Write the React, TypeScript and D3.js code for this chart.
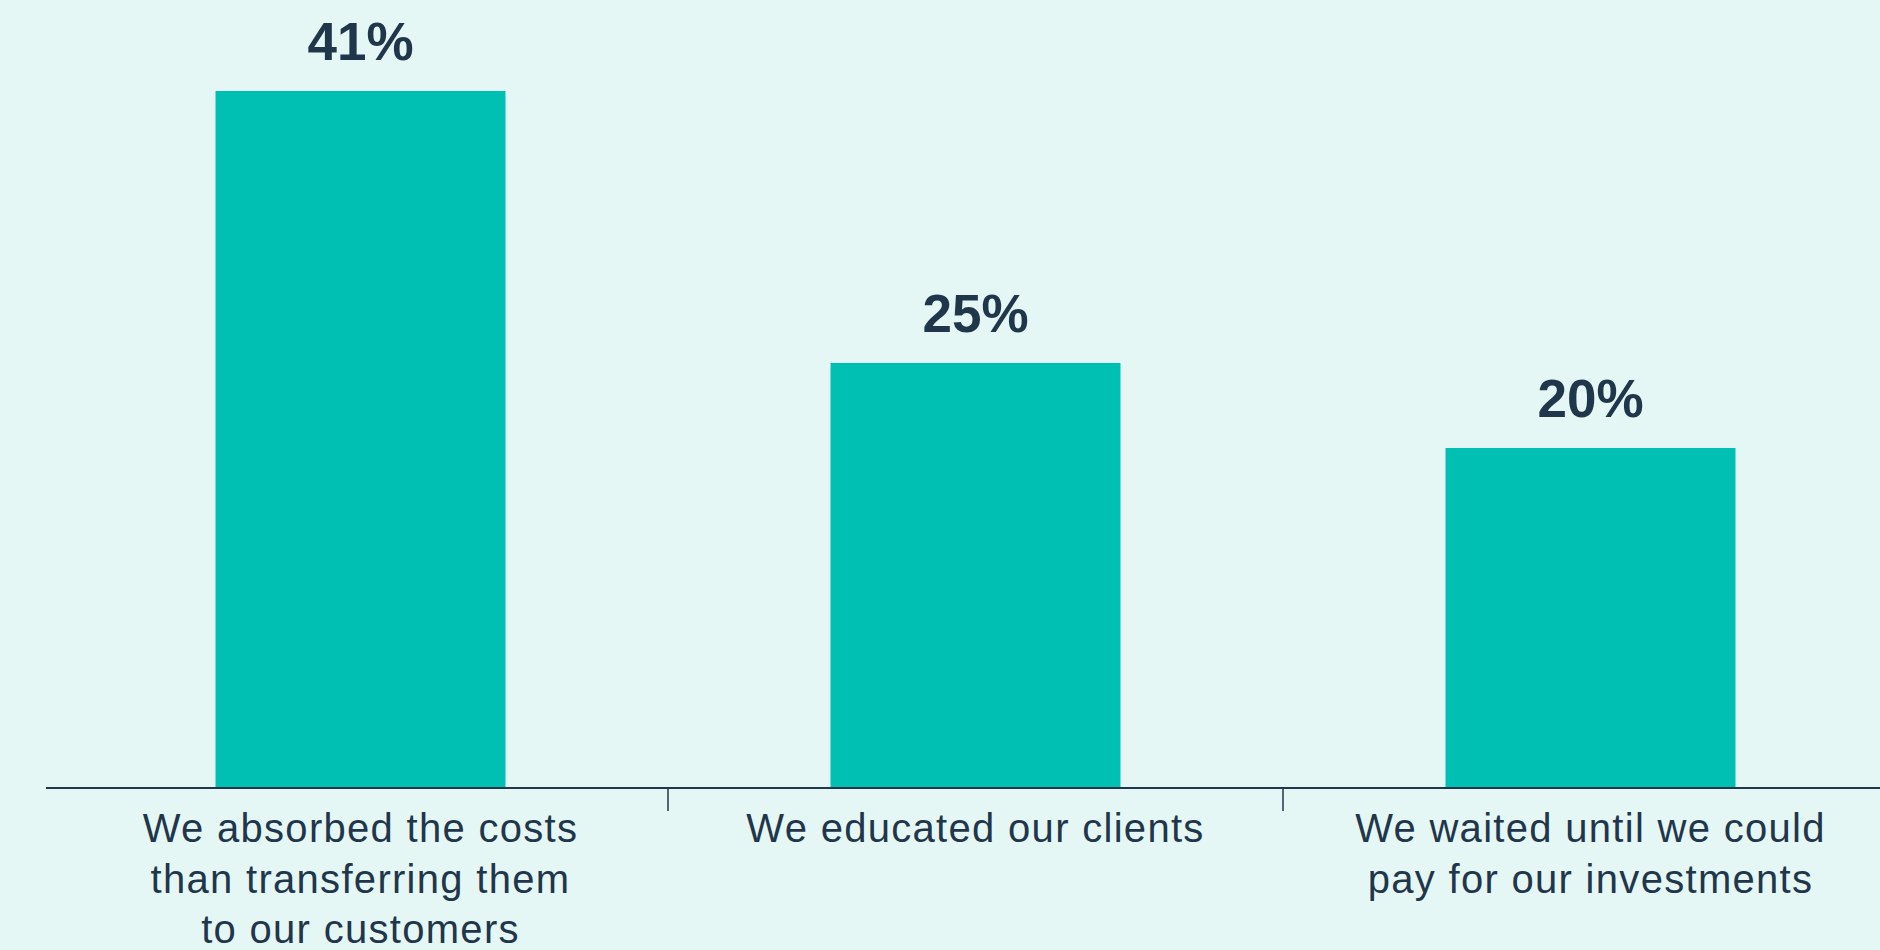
import React from "react";
import * as d3 from "d3";

const categories = ["absorbed", "educated", "waited"];
const categoryLines = [
  ["We absorbed the costs", "than transferring them", "to our customers"],
  ["We educated our clients"],
  ["We waited until we could", "pay for our investments"],
];
const values = [41, 25, 20];
const valueLabels = ["41%", "25%", "20%"];

const W = 1880;
const H = 950;
const BG = "#e5f7f5";
const BAR = "#00bfb3";
const INK = "#1f364b";

export default function App() {
  const x = d3.scaleBand<string>().domain(categories).range([53, 1898]).paddingInner(0).paddingOuter(0);
  const y = d3.scaleLinear().domain([0, 41]).range([788, 91]);
  const barW = x.bandwidth() * 0.4715;

  return (
    <svg
      width={W}
      height={H}
      style={{ position: "fixed", left: 0, top: 0, display: "block" }}
      fontFamily="'Liberation Sans', Arial, sans-serif"
    >
      <rect x={0} y={0} width={W} height={H} fill={BG} />
      {categories.map((c, i) => {
        const cx = (x(c) as number) + x.bandwidth() / 2;
        return (
          <g key={c}>
            <rect x={cx - barW / 2} y={y(values[i])} width={barW} height={y(0) - y(values[i])} fill={BAR} />
            <text
              x={cx}
              y={y(values[i]) - 31}
              textAnchor="middle"
              fontSize={53}
              fontWeight={700}
              fill={INK}
            >
              {valueLabels[i]}
            </text>
            <text textAnchor="middle" fontSize={40} fill={INK} letterSpacing={1.3}>
              {categoryLines[i].map((ln, j) => (
                <tspan key={j} x={cx} y={842 + j * 50.5}>
                  {ln}
                </tspan>
              ))}
            </text>
          </g>
        );
      })}
      <line x1={46} x2={W} y1={y(0)} y2={y(0)} stroke={INK} strokeWidth={2} />
      {categories.slice(1).map((c) => (
        <line key={c} x1={x(c) as number} x2={x(c) as number} y1={y(0)} y2={811} stroke={INK} strokeWidth={1.5} />
      ))}
    </svg>
  );
}
